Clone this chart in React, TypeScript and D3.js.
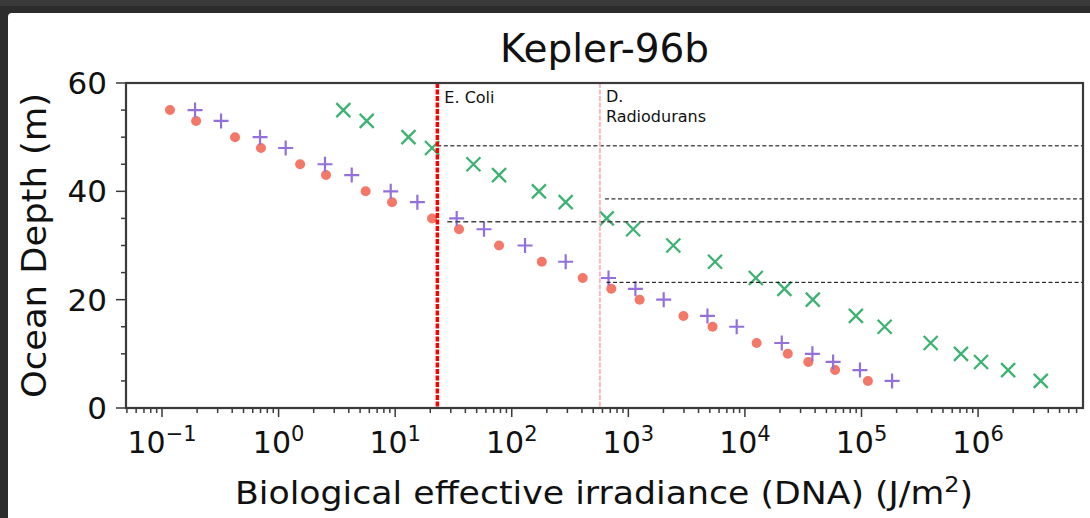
import React from "react";
import * as d3 from "d3";

const depths = [55, 53, 50, 48, 45, 43, 40, 38, 35, 33, 30, 27, 24, 22, 20, 17, 15, 12, 10, 8.5, 7, 5];
const redDose = [0.117, 0.196, 0.423, 0.706, 1.53, 2.55, 5.58, 9.4, 20.7, 35.3, 77.8, 181, 406, 714, 1250, 2970, 5280, 12600, 23300, 35000, 59400, 113500];
const purpleDose = [0.192, 0.321, 0.693, 1.15, 2.5, 4.24, 9.16, 15.5, 33.7, 57.8, 130, 290, 676, 1150, 2010, 4770, 8500, 20700, 37900, 57100, 97000, 183000];
const greenDose = [3.59, 5.7, 13.0, 20.7, 46.9, 77.8, 171, 290, 653, 1100, 2430, 5540, 12400, 21800, 38200, 89500, 158000, 392000, 713000, 1060000, 1810000, 3450000];

const eColiDose = 23;
const dRadDose = 570;
const hLineDepths = [48.4, 38.6, 34.4, 23.2];
const hLineStarts = [23, 630, 28, 650];
const hLineHeavy = [false, false, true, false];

const title = "Kepler-96b";
const xLabel = "Biological effective irradiance (DNA) (J/m";
const yLabel = "Ocean Depth (m)";

const W = 1090, H = 518;
const L = 126, R = 1083, T = 83, B = 408;
const FONT = "DejaVu Sans, sans-serif";

export default function App() {
  const x = d3.scaleLog().domain([Math.pow(10, -1.309), Math.pow(10, 6.9)]).range([L, R]);
  const y = d3.scaleLinear().domain([0, 60]).range([B, T]);

  const [d0, d1] = x.domain();
  const xt: { v: number; major: boolean; e: number }[] = [];
  for (let e = Math.floor(Math.log10(d0)); e <= Math.ceil(Math.log10(d1)); e++) {
    for (let m = 1; m <= 9; m++) {
      const v = m * Math.pow(10, e);
      if (v >= d0 && v <= d1) xt.push({ v, major: m === 1, e });
    }
  }
  const yt = y.ticks(12);
  const axisCol = "#3a3a3a";

  const plus = "M-7.5,0H7.5M0,-7.5V7.5";
  const cross = "M-7,-7L7,7M-7,7L7,-7";

  return (
    <svg width={W} height={H} style={{ position: "absolute", left: 0, top: 0 }} fontFamily={FONT}>
      <rect x={0} y={0} width={W} height={H} fill="#2c2c2c" />
      <rect x={0} y={0} width={W} height={6} fill="#3a3a3a" />
      <rect x={8} y={13} width={W} height={H} rx={4} fill="#ffffff" />

      {/* scatter */}
      {redDose.map((d, i) => (
        <circle key={"r" + i} cx={x(d)} cy={y(depths[i])} r={5} fill="#f37868" />
      ))}
      {purpleDose.map((d, i) => (
        <path key={"p" + i} d={plus} transform={`translate(${x(d)},${y(depths[i])})`} stroke="#9370db" strokeWidth={2.2} fill="none" />
      ))}
      {greenDose.map((d, i) => (
        <path key={"g" + i} d={cross} transform={`translate(${x(d)},${y(depths[i])})`} stroke="#3cb371" strokeWidth={2.3} fill="none" />
      ))}

      {/* threshold lines */}
      {hLineDepths.map((dp, i) => (
        <line key={"h" + i} x1={x(hLineStarts[i])} x2={R} y1={y(dp)} y2={y(dp)}
          stroke={hLineHeavy[i] ? "#444" : "#000"} strokeWidth={hLineHeavy[i] ? 1.5 : 1}
          strokeDasharray={hLineHeavy[i] ? "5,3" : "4,2.5"} />
      ))}
      <line x1={x(eColiDose)} x2={x(eColiDose)} y1={T} y2={B} stroke="#ff0000" strokeWidth={3.5} strokeDasharray="5,1.5" />
      <line x1={x(dRadDose)} x2={x(dRadDose)} y1={T} y2={B} stroke="#ffb6c1" strokeWidth={2} strokeDasharray="5,1.5" />
      <text x={x(eColiDose) + 7} y={103} fontSize={16} fill="#111">E. Coli</text>
      <text x={x(dRadDose) + 6} y={102} fontSize={16} fill="#111">D.</text>
      <text x={x(dRadDose) + 6} y={121.5} fontSize={16} fill="#111">Radiodurans</text>

      {/* spines */}
      <rect x={L} y={T} width={R - L} height={B - T} fill="none" stroke={axisCol} strokeWidth={2.2} />

      {/* x ticks */}
      {xt.map((t, i) => (
        <line key={"xt" + i} x1={x(t.v)} x2={x(t.v)} y1={B} y2={B + (t.major ? 9 : 5)} stroke={axisCol} strokeWidth={1.5} />
      ))}
      {xt.filter((t) => t.major).map((t, i) => (
        <text key={"xl" + i} x={x(t.v)} y={453} fontSize={30} textAnchor="middle" fill="#111">
          <tspan>10</tspan>
          <tspan fontSize={21} dy={-12}>{t.e < 0 ? "\u2212" + Math.abs(t.e) : String(t.e)}</tspan>
        </text>
      ))}

      {/* y ticks */}
      {yt.map((v, i) => (
        <line key={"yt" + i} x1={L - (v % 20 === 0 ? 10 : 5)} x2={L} y1={y(v)} y2={y(v)} stroke={axisCol} strokeWidth={1.5} />
      ))}
      {yt.filter((v) => v % 20 === 0).map((v, i) => (
        <text key={"yl" + i} x={107} y={y(v)} dy="0.36em" fontSize={31} textAnchor="end" fill="#111">{v}</text>
      ))}

      {/* labels */}
      <text x={(L + R) / 2} y={62} fontSize={39} textAnchor="middle" fill="#111">{title}</text>
      <text x={235} y={504} fontSize={32} fill="#111" textLength={738} lengthAdjust="spacingAndGlyphs">
        {xLabel}<tspan fontSize={22} dy={-12}>2</tspan><tspan dy={12}>)</tspan>
      </text>
      <text transform={`translate(46,${(T + B) / 2}) rotate(-90)`} fontSize={33} textAnchor="middle" fill="#111" textLength={305} lengthAdjust="spacingAndGlyphs">{yLabel}</text>
    </svg>
  );
}
